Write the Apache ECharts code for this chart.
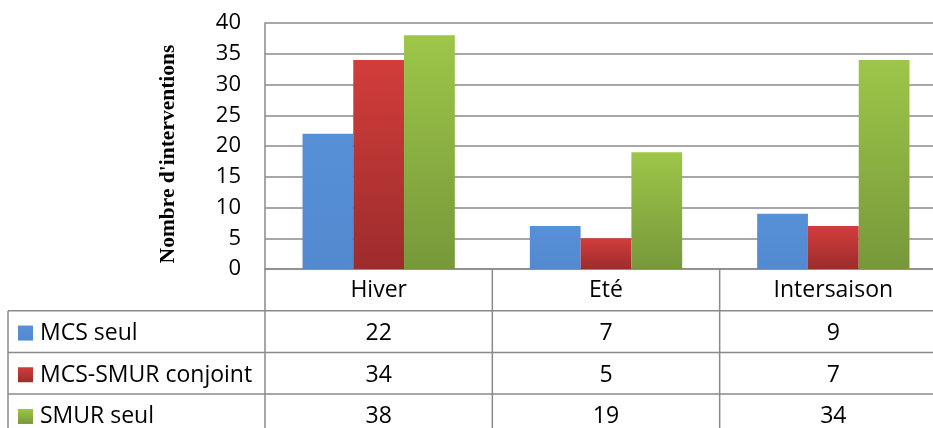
<!DOCTYPE html>
<html><head><meta charset="utf-8">
<script src="https://cdn.jsdelivr.net/npm/echarts@6/dist/echarts.min.js"></script>
<style>html,body{margin:0;padding:0;background:#fff}#c{width:933px;height:428px}</style>
</head><body><div id="c"></div>
<script>
const categories = ['Hiver', 'Eté', 'Intersaison'];
const seriesNames = ['MCS seul', 'MCS-SMUR conjoint', 'SMUR seul'];
const mcsSeul = [22, 7, 9];
const mcsSmurConjoint = [34, 5, 7];
const smurSeul = [38, 19, 34];
const yMin = 0, yMax = 40, yInterval = 5;
const yAxisTitle = "Nombre d'interventions";

const FONT = '"Open Sans"';
const GRID = '#8a8a8a';
function grad(top, bottom) {
  return new echarts.graphic.LinearGradient(0, 0, 0, 1, [{offset: 0, color: top}, {offset: 1, color: bottom}]);
}
const fills = [
  grad('#5890d8', '#5289cf'),
  grad('#d23d3b', '#9c2c2c'),
  grad('#9dc649', '#77983a')
];
const allValues = [mcsSeul, mcsSmurConjoint, smurSeul];

const chart = echarts.init(document.getElementById('c'), null, {renderer: 'canvas'});
chart.setOption({
  animation: false,
  backgroundColor: '#fff',
  grid: {left: 265, top: 23, width: 682, height: 246, containLabel: false, outerBoundsMode: 'none'},
  xAxis: {
    type: 'category', data: categories,
    axisLine: {show: true, lineStyle: {color: GRID, width: 1.5}},
    axisTick: {show: false},
    axisLabel: {show: true, fontFamily: FONT, fontSize: 23, color: '#000', margin: 10}
  },
  yAxis: {
    type: 'value', min: yMin, max: yMax, interval: yInterval,
    axisLine: {show: true, lineStyle: {color: GRID, width: 1.5}},
    axisTick: {show: false},
    axisLabel: {fontFamily: FONT, fontSize: 22, color: '#000', margin: 24},
    splitLine: {show: true, lineStyle: {color: GRID, width: 1.5}}
  },
  series: allValues.map((vals, i) => ({
    name: seriesNames[i], type: 'bar', data: vals,
    barGap: '0%', barCategoryGap: '33%',
    itemStyle: {color: fills[i], shadowBlur: 5, shadowColor: 'rgba(0,0,0,0.35)', shadowOffsetX: 2, shadowOffsetY: 2}
  }))
});

// Table below the plot, positioned from the axis scales
const c0 = chart.convertToPixel({xAxisIndex: 0}, categories[0]);
const c1 = chart.convertToPixel({xAxisIndex: 0}, categories[1]);
const band = c1 - c0;
const leftB = c0 - band / 2;
const rightB = leftB + band * categories.length;
const yZero = chart.convertToPixel({yAxisIndex: 0}, yMin);
const rowH = 41.7;
const tableLeft = 8;
const elems = [];
const ls = {stroke: GRID, lineWidth: 1.5};
for (let r = 1; r <= 4; r++) {
  const y = yZero + r * rowH;
  elems.push({type: 'line', shape: {x1: tableLeft, y1: y, x2: rightB + 5, y2: y}, style: ls});
}
elems.push({type: 'line', shape: {x1: tableLeft, y1: yZero + rowH, x2: tableLeft, y2: yZero + 4 * rowH}, style: ls});
for (let i = 0; i <= categories.length; i++) {
  const x = leftB + i * band;
  elems.push({type: 'line', shape: {x1: x, y1: yZero, x2: x, y2: yZero + 4 * rowH}, style: ls});
}
allValues.forEach((vals, r) => {
  const cy = yZero + (r + 1.5) * rowH + 2;
  elems.push({type: 'rect', shape: {x: 18, y: cy - 8, width: 15, height: 15}, style: {fill: fills[r]}});
  elems.push({type: 'text', x: 40, y: cy, style: {text: seriesNames[r], font: '23px ' + FONT, fill: '#000', align: 'left', verticalAlign: 'middle'}});
  vals.forEach((v, c) => {
    elems.push({type: 'text', x: c0 + c * band, y: cy, style: {text: String(v), font: '23px ' + FONT, fill: '#000', align: 'center', verticalAlign: 'middle'}});
  });
});
elems.push({type: 'text', x: 168, y: 154, rotation: Math.PI / 2,
  style: {text: yAxisTitle, font: 'bold 21.5px "Liberation Serif"', fill: '#000', align: 'center', verticalAlign: 'middle'}});
chart.setOption({graphic: {elements: elems}});
</script>
</body></html>
